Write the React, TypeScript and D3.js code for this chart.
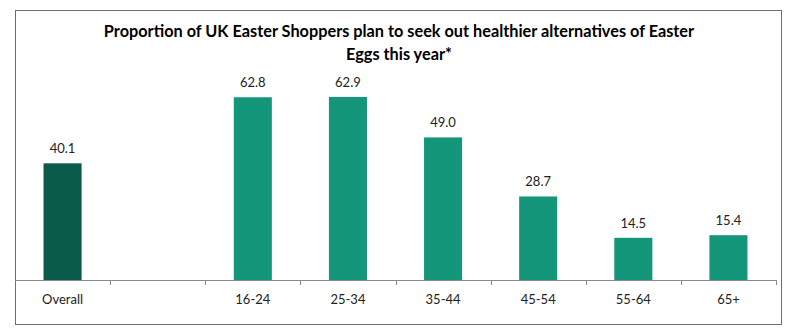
import React from "react";
import * as d3 from "d3";

const categories = ["Overall", "", "16-24", "25-34", "35-44", "45-54", "55-64", "65+"];
const values: (number | null)[] = [40.1, null, 62.8, 62.9, 49.0, 28.7, 14.5, 15.4];
const titleLines = [
  "Proportion of UK Easter Shoppers plan to seek out healthier alternatives of Easter",
  "Eggs this year*",
];

const W = 800;
const H = 335;
const FONT = "Lato, 'Open Sans', sans-serif";

export default function App() {
  const keys = categories.map((_, i) => String(i));
  const x = d3.scaleBand<string>()
    .domain(keys)
    .range([15, 776])
    .paddingInner(0.6)
    .paddingOuter(0.3);
  const step = x.step();
  const bw = x.bandwidth();
  const y = d3.scaleLinear().domain([0, 70]).range([280, 76.3]);

  const tickXs = d3.range(1, categories.length + 1).map((i) => 15 + i * step);

  return (
    <svg width={W} height={H} style={{ position: "absolute", left: 0, top: 0 }}>
      <rect x={0} y={0} width={W} height={H} fill="#fff" />
      <rect x={15.5} y={10.5} width={766} height={314} fill="none" stroke="#6e6e6e" strokeWidth={1} />
      {titleLines.map((t, i) => (
        <text
          key={i}
          x={399}
          y={37 + i * 23}
          textAnchor="middle"
          fontFamily={FONT}
          fontWeight="bold"
          fontSize={16.3}
          fill="#000"
        >
          {t}
        </text>
      ))}
      {values.map((v, i) => {
        if (v == null) return null;
        const bx = x(String(i)) as number;
        const cx = bx + bw / 2;
        return (
          <g key={i}>
            <rect
              x={bx}
              y={y(v)}
              width={bw}
              height={y(0) - y(v)}
              fill={i === 0 ? "#0b5b4b" : "#14967a"}
            />
            <text
              x={cx}
              y={y(v) - 10}
              textAnchor="middle"
              fontFamily={FONT}
              fontSize={13}
              fill="#222"
            >
              {d3.format(".1f")(v)}
            </text>
          </g>
        );
      })}
      <line x1={15} x2={776} y1={280.5} y2={280.5} stroke="#8a8a8a" strokeWidth={1} />
      {tickXs.map((tx, i) => (
        <line key={i} x1={Math.round(tx) + 0.5} x2={Math.round(tx) + 0.5} y1={280} y2={285} stroke="#8a8a8a" />
      ))}
      {categories.map((c, i) => (
        <text
          key={i}
          x={(x(String(i)) as number) + bw / 2}
          y={304}
          textAnchor="middle"
          fontFamily={FONT}
          fontSize={13}
          fill="#222"
        >
          {c}
        </text>
      ))}
    </svg>
  );
}
